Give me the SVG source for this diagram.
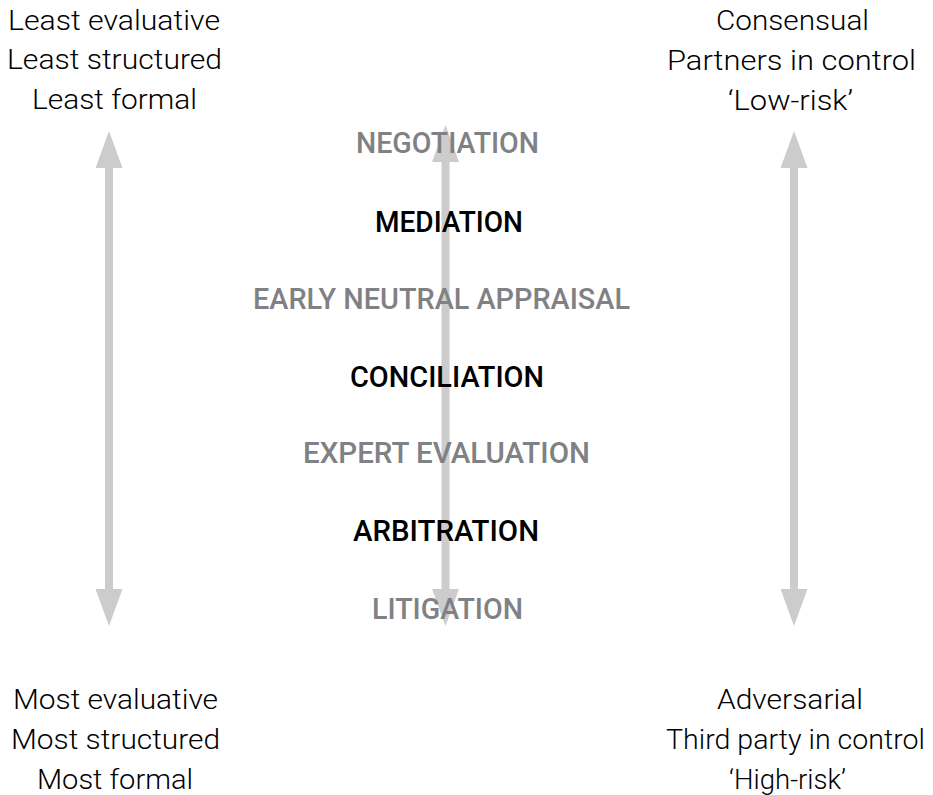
<svg xmlns="http://www.w3.org/2000/svg" width="933" height="795" viewBox="0 0 933 795">
  <style>
    .side { font-family: Roboto, "Liberation Sans", sans-serif; font-size: 27.5px; font-weight: 300; fill: #000; text-anchor: middle; }
    .step { font-family: Roboto, "Liberation Sans", sans-serif; font-size: 29.5px; font-weight: 500; text-anchor: middle; }
    .grey { fill: #808184; }
    .dark { fill: #000; }
    .arrow { stroke: #cccccc; stroke-width: 8; fill: none; marker-start: url(#head); marker-end: url(#head); }
  </style>
  <defs>
    <marker id="head" markerUnits="userSpaceOnUse" markerWidth="37" markerHeight="27" viewBox="0 0 37 27" refX="1" refY="13.5" orient="auto-start-reverse">
      <path d="M0,0 L37,13.5 L0,27 Z" fill="#cccccc"/>
    </marker>
  </defs>
  <rect width="933" height="795" fill="#ffffff"/>

  <g id="connectors">
    <line class="arrow" x1="109" y1="167" x2="109" y2="590"/>
    <line class="arrow" x1="445.5" y1="161" x2="445.5" y2="590"/>
    <line class="arrow" x1="794" y1="167" x2="794" y2="590"/>
  </g>

  <g id="top-left">
    <text class="side" x="114" y="30" textLength="212" lengthAdjust="spacingAndGlyphs">Least evaluative</text>
    <text class="side" x="114.5" y="69" textLength="215" lengthAdjust="spacingAndGlyphs">Least structured</text>
    <text class="side" x="114.5" y="109" textLength="165" lengthAdjust="spacingAndGlyphs">Least formal</text>
  </g>
  <g id="bottom-left">
    <text class="side" x="115.5" y="709" textLength="205" lengthAdjust="spacingAndGlyphs">Most evaluative</text>
    <text class="side" x="115.5" y="749" textLength="209" lengthAdjust="spacingAndGlyphs">Most structured</text>
    <text class="side" x="115" y="789" textLength="156" lengthAdjust="spacingAndGlyphs">Most formal</text>
  </g>
  <g id="top-right">
    <text class="side" x="792.5" y="30" textLength="153" lengthAdjust="spacingAndGlyphs">Consensual</text>
    <text class="side" x="791.5" y="70" textLength="249" lengthAdjust="spacingAndGlyphs">Partners in control</text>
    <text class="side" x="790.5" y="110" textLength="125" lengthAdjust="spacingAndGlyphs">‘Low-risk’</text>
  </g>
  <g id="bottom-right">
    <text class="side" x="790" y="709" textLength="146" lengthAdjust="spacingAndGlyphs">Adversarial</text>
    <text class="side" x="795.5" y="749" textLength="259" lengthAdjust="spacingAndGlyphs">Third party in control</text>
    <text class="side" x="787.5" y="789" textLength="117" lengthAdjust="spacingAndGlyphs">‘High-risk’</text>
  </g>

  <g id="negotiation"><text class="step grey" x="447.5" y="153" textLength="183" lengthAdjust="spacingAndGlyphs">NEGOTIATION</text></g>
  <g id="mediation"><text class="step dark" x="449" y="232" textLength="148" lengthAdjust="spacingAndGlyphs">MEDIATION</text></g>
  <g id="early-neutral-appraisal"><text class="step grey" x="441.5" y="309" textLength="377" lengthAdjust="spacingAndGlyphs">EARLY NEUTRAL APPRAISAL</text></g>
  <g id="conciliation"><text class="step dark" x="447" y="387" textLength="194" lengthAdjust="spacingAndGlyphs">CONCILIATION</text></g>
  <g id="expert-evaluation"><text class="step grey" x="446.5" y="463" textLength="287" lengthAdjust="spacingAndGlyphs">EXPERT EVALUATION</text></g>
  <g id="arbitration"><text class="step dark" x="446" y="541" textLength="186" lengthAdjust="spacingAndGlyphs">ARBITRATION</text></g>
  <g id="litigation"><text class="step grey" x="447.5" y="619" textLength="151" lengthAdjust="spacingAndGlyphs">LITIGATION</text></g>
</svg>
